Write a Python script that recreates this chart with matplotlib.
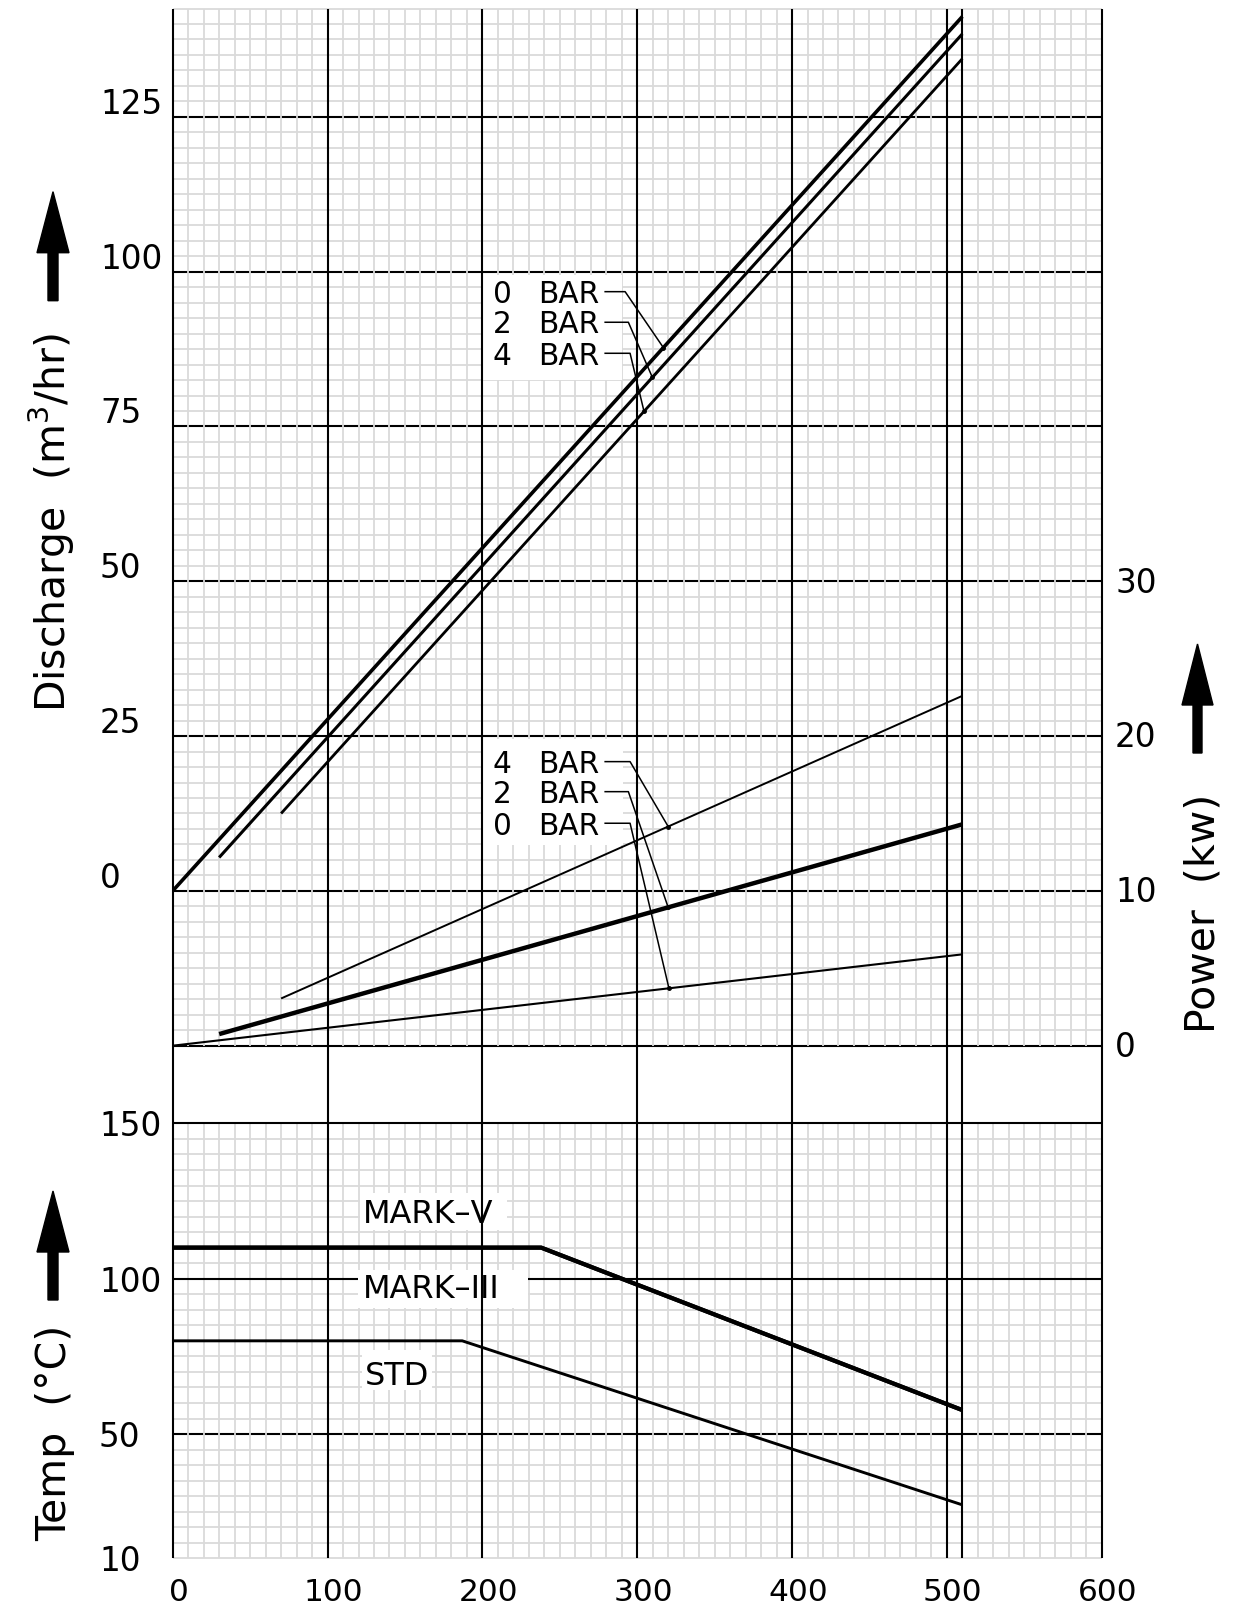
import numpy as np
import matplotlib
matplotlib.use('Agg')
import matplotlib.pyplot as plt
import matplotlib.patches as patches
import matplotlib.transforms as mtransforms

plt.rcParams['font.family'] = ['DejaVu Sans']
plt.rcParams['mathtext.fontset'] = 'dejavusans'

# --- data ---
# discharge (m3/hr) vs speed, for 0 / 2 / 4 bar
dis_x_0bar = [0, 510]
dis_0bar = [0, 141.2]
dis_x_2bar = [30, 510]
dis_2bar = [5.4, 138.4]
dis_x_4bar = [70, 510]
dis_4bar = [12.5, 134.4]

# power (kw)
pow_x_0bar = [0, 510]
pow_0bar = [0, 5.9]
pow_x_2bar = [30, 510]
pow_2bar = [0.75, 14.3]
pow_x_4bar = [70, 510]
pow_4bar = [3.05, 22.6]

# temperature limits (C)
temp_x_mark = [0, 238, 510]
temp_mark_v = [110, 110, 57.7]
temp_mark_iii = [110, 110, 57.7]
temp_x_std = [0, 187, 510]
temp_std = [80, 80, 27.2]

x_ticks = [0, 100, 200, 300, 400, 500, 600]
dis_ticks = [0, 25, 50, 75, 100, 125]
pow_ticks = [0, 10, 20, 30]
temp_ticks = [10, 50, 100, 150]

bar_names_top = ['0', '2', '4']
bar_names_bottom = ['4', '2', '0']
temp_names = ['MARK\u2013V', 'MARK\u2013III', 'STD']

MINOR = '#dadada'
W, H = 1233, 1609

fig = plt.figure(figsize=(W / 100, H / 100), dpi=100)
ax = fig.add_axes([172.7 / W, 1 - 1045.7 / H, 929 / W, 1037.2 / H])
axp = ax.twinx()
axt = fig.add_axes([172.7 / W, 1 - 1558.3 / H, 929 / W, 512.6 / H])

ax.set_xlim(0, 600)
ax.set_ylim(-25, 142.5)
axp.set_ylim(0, 67)
axt.set_xlim(0, 600)
axt.set_ylim(10, 175)

for a in (ax, axp, axt):
    a.set_xticks([])
    a.set_yticks([])
    a.patch.set_visible(False)
    for s in a.spines.values():
        s.set_visible(False)


def off(dx, dy):
    # pixel offset
    return mtransforms.ScaledTranslation(dx / 100, dy / 100, fig.dpi_scale_trans)


# --- graph paper ---
major_x = [0, 100, 200, 300, 400, 500, 510, 600]
minor_x = [v for v in range(0, 601, 10) if v % 100]
lw_min = 1.3
lw_maj = 1.5

# top panel
ax.hlines(np.arange(-22.5, 142.6, 2.5), 0, 600, color=MINOR, lw=lw_min, zorder=1, clip_on=False)
ax.hlines([-25] + dis_ticks, 0, 600, color='black', lw=lw_maj, zorder=2, clip_on=False)
ax.vlines(minor_x, -25, 142.5, color=MINOR, lw=lw_min, zorder=3, clip_on=False)
ax.vlines(major_x, -25, 142.5, color='black', lw=lw_maj, zorder=4, clip_on=False)

# bottom panel
axt.hlines([v for v in range(10, 151, 5) if v not in (50, 100, 150)], 0, 600,
           color=MINOR, lw=lw_min, zorder=1, clip_on=False)
axt.hlines([50], 0, 600, color='black', lw=lw_maj, zorder=2, clip_on=False)
axt.vlines(minor_x, 10, 150, color=MINOR, lw=lw_min, zorder=3, clip_on=False)
axt.hlines([100, 150], 0, 600, color='black', lw=lw_maj, zorder=3.2, clip_on=False)
axt.vlines(major_x, 10, 175, color='black', lw=lw_maj, zorder=4, clip_on=False)

# --- curves ---
ax.plot(dis_x_0bar, dis_0bar, color='black', lw=2.6, zorder=6, solid_capstyle='butt')
ax.plot(dis_x_2bar, dis_2bar, color='black', lw=2.2, zorder=6, solid_capstyle='butt')
ax.plot(dis_x_4bar, dis_4bar, color='black', lw=2.0, zorder=6, solid_capstyle='butt')

axp.plot(pow_x_0bar, pow_0bar, color='black', lw=1.5, zorder=6, solid_capstyle='butt')
axp.plot(pow_x_2bar, pow_2bar, color='black', lw=3.2, zorder=6, solid_capstyle='butt')
axp.plot(pow_x_4bar, pow_4bar, color='black', lw=1.4, zorder=6, solid_capstyle='butt')

axt.plot(temp_x_mark, temp_mark_v, color='black', lw=3.0, zorder=6, solid_capstyle='butt')
axt.plot(temp_x_mark, temp_mark_iii, color='black', lw=3.0, zorder=6, solid_capstyle='butt')
axt.plot(temp_x_std, temp_std, color='black', lw=2.1, zorder=6, solid_capstyle='butt')

# --- BAR labels with leaders ---
ax.add_patch(patches.Rectangle((200, 82.5), 90, 17.0, facecolor='white', edgecolor='none', zorder=3.5))
ax.add_patch(patches.Rectangle((200, 7.4), 91, 17.1, facecolor='white', edgecolor='none', zorder=3.5))

top_series = [(dis_x_0bar, dis_0bar), (dis_x_2bar, dis_2bar), (dis_x_4bar, dis_4bar)]
top_target_x = [316.9, 309.8, 304.4]
top_base = [94.9, 90.05, 84.93]
top_lead = [96.77, 91.83, 86.82]
top_knee = [292.2, 294.3, 295.4]
for name, (sx, sy), tx, yb, yl, kx in zip(bar_names_top, top_series, top_target_x,
                                          top_base, top_lead, top_knee):
    ty = np.interp(tx, sx, sy)
    ax.text(206.7, yb, name, fontsize=21.3, ha='left', va='baseline', zorder=7)
    ax.text(235.9, yb, 'BAR', fontsize=21.3, ha='left', va='baseline', zorder=7)
    ax.plot([279.3, kx, tx], [yl, yl, ty], color='black', lw=1.1, zorder=7)
    ax.plot([tx], [ty], 'o', color='black', ms=2.5, zorder=7)

bot_series = [(pow_x_4bar, pow_4bar), (pow_x_2bar, pow_2bar), (pow_x_0bar, pow_0bar)]
bot_target_x = [320, 320, 320.5]
bot_base = [17.6, 15.66, 13.61]
bot_lead = [18.35, 16.41, 14.37]
bot_knee = [295.4, 294.3, 295.4]
for name, (sx, sy), tx, yb, yl, kx in zip(bar_names_bottom, bot_series, bot_target_x,
                                          bot_base, bot_lead, bot_knee):
    ty = np.interp(tx, sx, sy)
    axp.text(206.7, yb, name, fontsize=21.3, ha='left', va='baseline', zorder=7)
    axp.text(235.9, yb, 'BAR', fontsize=21.3, ha='left', va='baseline', zorder=7)
    axp.plot([279.3, kx, tx], [yl, yl, ty], color='black', lw=1.1, zorder=7)
    axp.plot([tx], [ty], 'o', color='black', ms=2.5, zorder=7)

# --- temperature labels ---
temp_boxes = [(121.1, 115.7, 94.7, 11.9), (119.7, 90.6, 109.8, 12.2), (122.1, 64.2, 45.2, 12.9)]
temp_text_pos = [(122.9, 117.8), (122.9, 93.7), (124.2, 65.8)]
for name, (bx, by, bw, bh), (tx, ty) in zip(temp_names, temp_boxes, temp_text_pos):
    axt.add_patch(patches.Rectangle((bx, by), bw, bh, facecolor='white', edgecolor='none', zorder=3.5))
    axt.text(tx, ty, name, fontsize=23, ha='left', va='baseline', zorder=7)

# --- tick labels ---
fs = 23.5
for v in dis_ticks:
    ax.text(0, v, str(v), transform=ax.get_yaxis_transform() + off(-72.7, 3),
            ha='left', va='baseline', fontsize=fs)
for v in pow_ticks:
    axp.text(1, v, str(v), transform=axp.get_yaxis_transform() + off(13.3, -11.3),
             ha='left', va='baseline', fontsize=fs)
for v in temp_ticks:
    axt.text(0, v, str(v), transform=axt.get_yaxis_transform() + off(-73.7, -13),
             ha='left', va='baseline', fontsize=fs)
for v in x_ticks:
    axt.text(v, 0, str(v), transform=axt.get_xaxis_transform() + off(6, -49),
             ha='center', va='bottom', fontsize=22.5)

# --- axis titles with arrows ---
tfs = 29.5
fig.text(0.66, 10.865, 'Discharge  (m$^3$/hr)', transform=fig.dpi_scale_trans, rotation=90,
         rotation_mode='anchor', ha='center', va='baseline', fontsize=tfs)
fig.text(0.66, 1.76, 'Temp  (\u00b0C)', transform=fig.dpi_scale_trans, rotation=90,
         rotation_mode='anchor', ha='center', va='baseline', fontsize=tfs)
fig.text(12.15, 6.955, 'Power  (kw)', transform=fig.dpi_scale_trans, rotation=90,
         rotation_mode='anchor', ha='center', va='baseline', fontsize=tfs)

for x0, y0, w, hw in [(0.53, 13.083, 0.10, 0.32), (0.53, 3.09, 0.10, 0.32), (11.975, 8.56, 0.09, 0.31)]:
    fig.add_artist(patches.FancyArrow(x0, y0, 0, 1.09, width=w, head_width=hw, head_length=0.61,
                                      length_includes_head=True, color='black',
                                      transform=fig.dpi_scale_trans))

fig.savefig('out.png', dpi=100, facecolor='white')
